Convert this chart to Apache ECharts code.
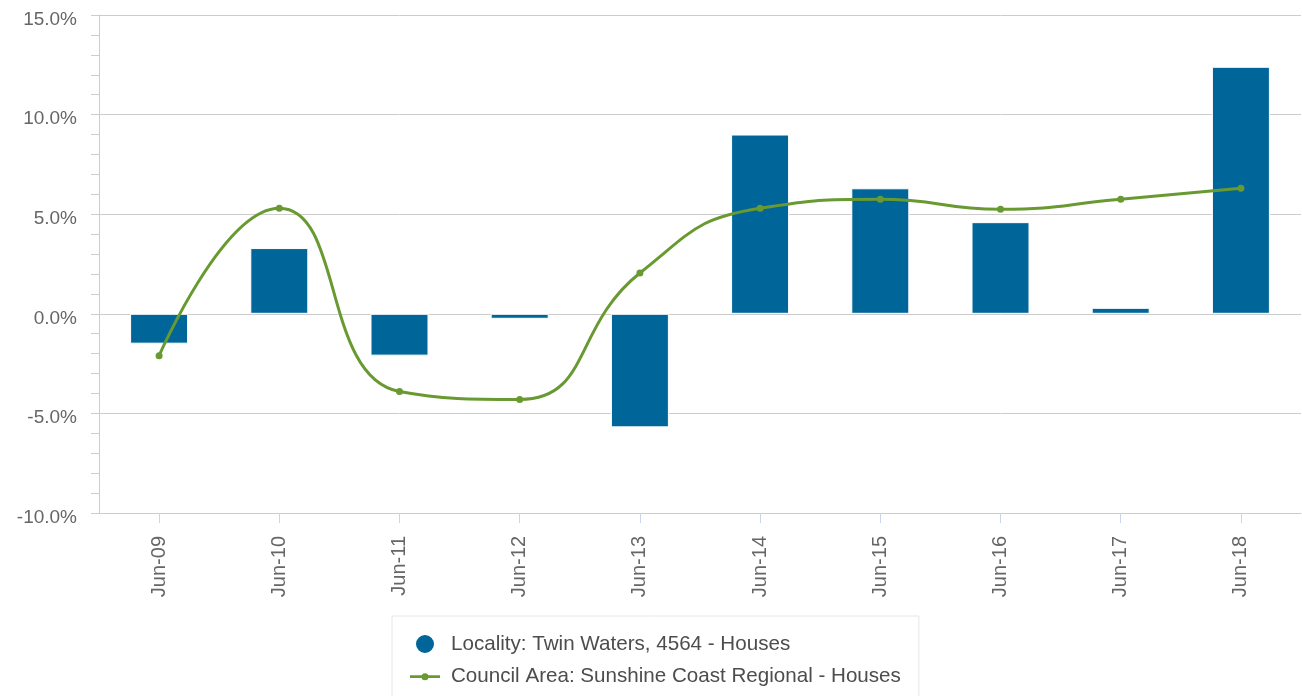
<!DOCTYPE html>
<html>
<head>
<meta charset="utf-8">
<script src="https://cdn.jsdelivr.net/npm/echarts@6/dist/echarts.min.js"></script>
<style>
html,body{margin:0;padding:0;background:#fff;}
#chart{width:1302px;height:696px;}
</style>
</head>
<body>
<div id="chart"></div>
<script>
var categories = ['Jun-09','Jun-10','Jun-11','Jun-12','Jun-13','Jun-14','Jun-15','Jun-16','Jun-17','Jun-18'];
var localityValues = [-1.5, 3.3, -2.1, -0.25, -5.7, 9.0, 6.3, 4.6, 0.3, 12.4];
var councilValues = [-2.1, 5.3, -3.9, -4.3, 2.05, 5.3, 5.75, 5.25, 5.75, 6.3];
var localityName = 'Locality: Twin Waters, 4564 - Houses';
var councilName = 'Council Area: Sunshine Coast Regional - Houses';

var chart = echarts.init(document.getElementById('chart'));
var font = '"Liberation Sans", Arial, Helvetica, sans-serif';
var lineIcon = 'path://M0,0 M30,20 M0,8.8 L30,8.8 L30,11.6 L0,11.6 Z M15,6.7 A3.5,3.5 0 0 1 15,13.7 A3.5,3.5 0 0 1 15,6.7 Z';
chart.setOption({
  animation: false,
  grid: {left: 99, right: 1, top: 15, bottom: 183},
  legend: {
    orient: 'vertical',
    left: 392,
    top: 616,
    height: 160,
    padding: [17, 18, 17, 18],
    borderColor: '#e6e6e6',
    borderWidth: 1,
    itemWidth: 30,
    itemHeight: 20,
    itemGap: 11,
    textStyle: {fontFamily: font, fontSize: 20.6, color: '#4d4d4d', padding: [0, 0, 0, 6]},
    data: [
      {name: localityName, icon: 'circle'},
      {name: councilName, icon: lineIcon, itemStyle: {color: '#689a31'}}
    ]
  },
  xAxis: {
    type: 'category',
    data: categories,
    boundaryGap: true,
    axisLine: {onZero: false, lineStyle: {color: '#ccc', width: 1}},
    axisTick: {show: true, alignWithLabel: true, length: 10, lineStyle: {color: '#ccd6eb'}},
    axisLabel: {rotate: 90, margin: 23, fontFamily: font, fontSize: 20, color: '#666'}
  },
  yAxis: {
    type: 'value',
    min: -10, max: 15, interval: 5,
    axisLine: {show: true, lineStyle: {color: '#ccc'}},
    axisTick: {show: true, length: 8, lineStyle: {color: '#ccc'}},
    minorTick: {show: true, splitNumber: 5, length: 8, lineStyle: {color: '#ccc'}},
    splitLine: {lineStyle: {color: '#cccccc', width: 1}},
    axisLabel: {
      fontFamily: font, fontSize: 19, color: '#666', margin: 22,
      formatter: function (v) { return '{a|' + v.toFixed(1) + '%}'; },
      rich: {a: {fontFamily: font, fontSize: 19, color: '#666', padding: [9, 0, 0, 0]}}
    }
  },
  series: [
    {
      name: localityName,
      type: 'bar',
      data: localityValues,
      barWidth: 58,
      itemStyle: {color: '#006699', borderColor: '#fff', borderWidth: 1}
    },
    {
      name: councilName,
      type: 'line',
      data: councilValues,
      smooth: 0.5,
      symbol: 'circle',
      symbolSize: 7,
      lineStyle: {color: '#689a31', width: 3},
      itemStyle: {color: '#689a31'},
      z: 5
    }
  ]
});
</script>
</body>
</html>
